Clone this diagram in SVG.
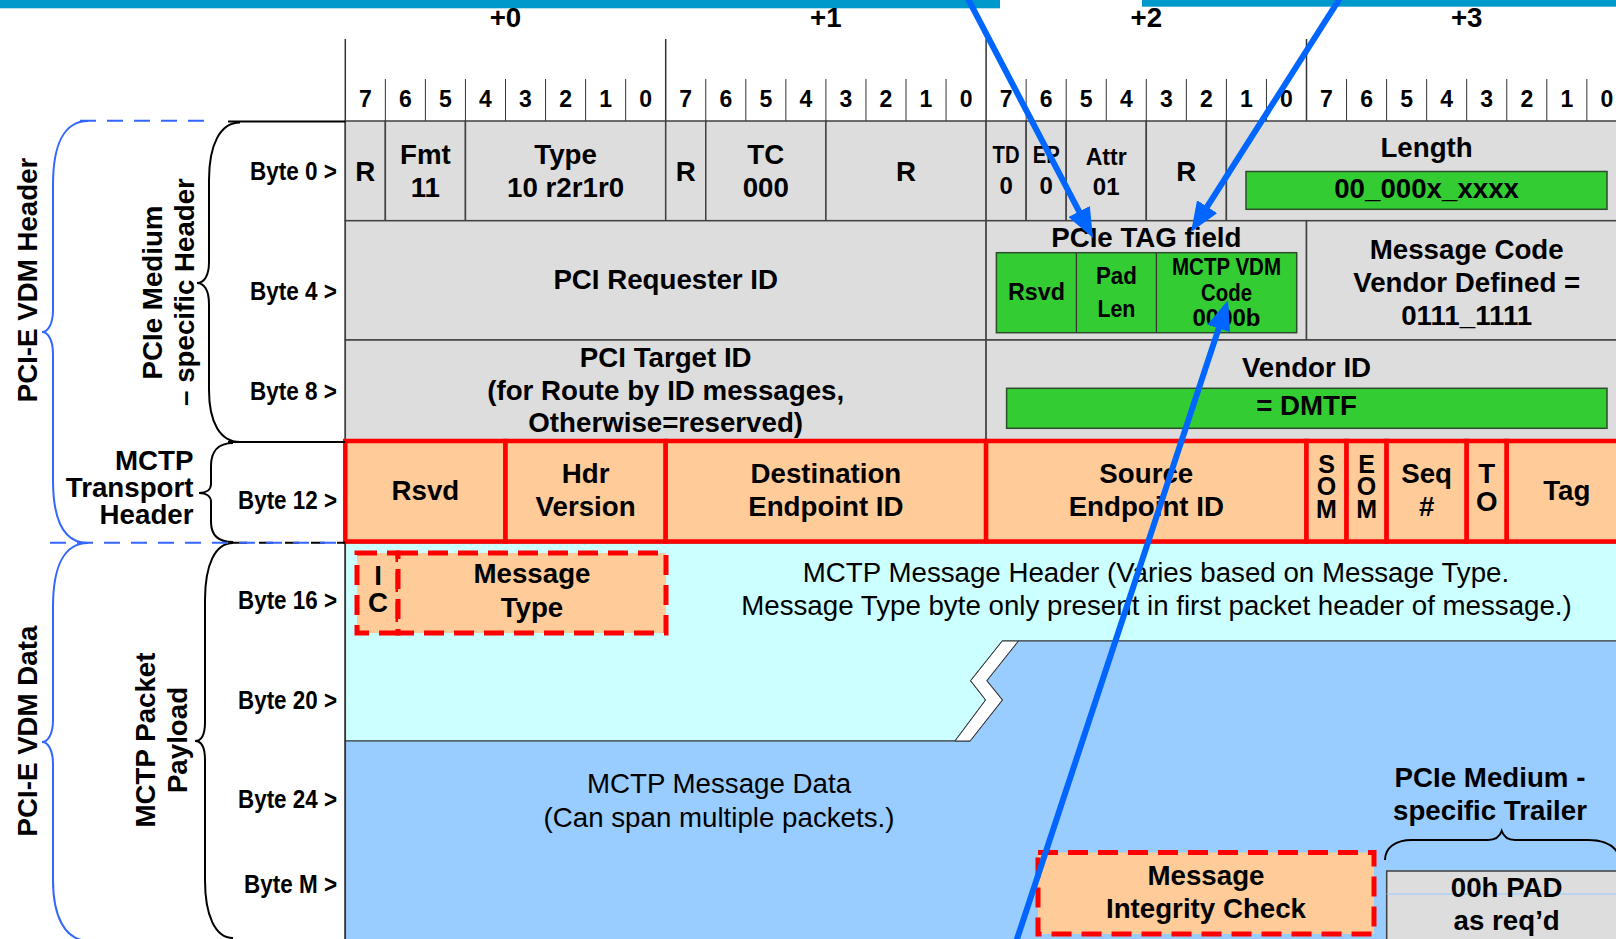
<svg xmlns="http://www.w3.org/2000/svg" width="1616" height="939" viewBox="0 0 1616 939">
<defs>
<style>
text{font-family:"Liberation Sans",Arial,sans-serif;fill:#000}
.b{font-size:27.7px;font-weight:bold;text-anchor:middle}
.r{font-size:27.7px;text-anchor:middle}
.bit{font-size:23px;font-weight:bold;text-anchor:middle}
.byte{font-size:25.5px;font-weight:bold;text-anchor:end}
.sm{font-size:24px;font-weight:bold;text-anchor:middle}
.stk{font-size:25px;font-weight:bold;text-anchor:middle}
.lt{font-size:27.7px;font-weight:bold;text-anchor:end}
.gray{fill:#DDDDDD;stroke:#404040;stroke-width:1.5}
.green{fill:#33CC33;stroke:#2b4d2b;stroke-width:1.5}
.mctp{fill:#FFCC99;stroke:#FF0000;stroke-width:4.5}
.dash{fill:#FFCC99;stroke:#FF0000;stroke-width:5;stroke-dasharray:20 10}
.brace{fill:none;stroke:#000;stroke-width:2}
.bbrace{fill:none;stroke:#3366FF;stroke-width:2}
.arrow{stroke:#0066FF;stroke-width:6;fill:none;marker-end:url(#ah)}
</style>
<marker id="ah" markerUnits="userSpaceOnUse" markerWidth="30" markerHeight="24" refX="12" refY="12" orient="auto"><path d="M0,0 L30,12 L0,24 Z" fill="#0066FF"/></marker>
</defs>
<rect width="1616" height="939" fill="#FFFFFF"/>
<!-- top bars -->
<rect x="0" y="0" width="1000" height="8.3" fill="#0099CC"/>
<rect x="1142" y="0" width="474" height="6.7" fill="#0099CC"/>
<!-- byte offsets -->
<g id="offsets">
<text class="b" x="505.5" y="27">+0</text>
<text class="b" x="825.9" y="27">+1</text>
<text class="b" x="1146.3" y="27">+2</text>
<text class="b" x="1466.7" y="27">+3</text>
</g>
<!-- grid lines -->
<g id="grid" stroke="#333" fill="none">
<path d="M345.3,39 V939 M665.7,39 V121 M986.1,39 V121 M1306.5,39 V121" stroke-width="1.5"/>
<path d="M385.35,79V121M425.4,79V121M465.45,79V121M505.5,79V121M545.55,79V121M585.6,79V121M625.65,79V121M705.75,79V121M745.8,79V121M785.85,79V121M825.9,79V121M865.95,79V121M906,79V121M946.05,79V121M1026.15,79V121M1066.2,79V121M1106.25,79V121M1146.3,79V121M1186.35,79V121M1226.4,79V121M1266.45,79V121M1346.55,79V121M1386.6,79V121M1426.65,79V121M1466.7,79V121M1506.75,79V121M1546.8,79V121M1586.85,79V121" stroke-width="1"/>
</g>
<g id="bits">
<text class="bit" x="365.3" y="107">7</text><text class="bit" x="405.4" y="107">6</text><text class="bit" x="445.4" y="107">5</text><text class="bit" x="485.5" y="107">4</text><text class="bit" x="525.5" y="107">3</text><text class="bit" x="565.6" y="107">2</text><text class="bit" x="605.6" y="107">1</text><text class="bit" x="645.7" y="107">0</text>
<text class="bit" x="685.7" y="107">7</text><text class="bit" x="725.8" y="107">6</text><text class="bit" x="765.8" y="107">5</text><text class="bit" x="805.9" y="107">4</text><text class="bit" x="845.9" y="107">3</text><text class="bit" x="886" y="107">2</text><text class="bit" x="926" y="107">1</text><text class="bit" x="966.1" y="107">0</text>
<text class="bit" x="1006.1" y="107">7</text><text class="bit" x="1046.2" y="107">6</text><text class="bit" x="1086.2" y="107">5</text><text class="bit" x="1126.3" y="107">4</text><text class="bit" x="1166.3" y="107">3</text><text class="bit" x="1206.4" y="107">2</text><text class="bit" x="1246.4" y="107">1</text><text class="bit" x="1286.5" y="107">0</text>
<text class="bit" x="1326.5" y="107">7</text><text class="bit" x="1366.6" y="107">6</text><text class="bit" x="1406.6" y="107">5</text><text class="bit" x="1446.7" y="107">4</text><text class="bit" x="1486.7" y="107">3</text><text class="bit" x="1526.8" y="107">2</text><text class="bit" x="1566.8" y="107">1</text><text class="bit" x="1606.9" y="107">0</text>
</g>
<!-- Byte 0 row -->
<g id="row0">
<rect class="gray" x="345.3" y="121" width="40.05" height="99.7"/>
<rect class="gray" x="385.35" y="121" width="80.1" height="99.7"/>
<rect class="gray" x="465.45" y="121" width="200.25" height="99.7"/>
<rect class="gray" x="665.7" y="121" width="40.05" height="99.7"/>
<rect class="gray" x="705.75" y="121" width="120.15" height="99.7"/>
<rect class="gray" x="825.9" y="121" width="160.2" height="99.7"/>
<rect class="gray" x="986.1" y="121" width="40.05" height="99.7"/>
<rect class="gray" x="1026.15" y="121" width="40.05" height="99.7"/>
<rect class="gray" x="1066.2" y="121" width="80.1" height="99.7"/>
<rect class="gray" x="1146.3" y="121" width="80.1" height="99.7"/>
<rect class="gray" x="1226.4" y="121" width="410" height="99.7"/>
</g>
<g id="f-r0"><text class="b" x="365.3" y="181">R</text></g>
<g id="f-fmt"><text class="b" x="425.4" y="164">Fmt</text><text class="b" x="425.4" y="197">11</text></g>
<g id="f-type"><text class="b" x="565.6" y="164">Type</text><text class="b" x="565.6" y="197">10 r2r1r0</text></g>
<g id="f-r1"><text class="b" x="685.7" y="181">R</text></g>
<g id="f-tc"><text class="b" x="765.8" y="164">TC</text><text class="b" x="765.8" y="197">000</text></g>
<g id="f-r2"><text class="b" x="906" y="181">R</text></g>
<g id="f-td"><text class="sm" x="1006.1" y="163" font-size="22" textLength="27" lengthAdjust="spacingAndGlyphs">TD</text><text class="sm" x="1006.1" y="194">0</text></g>
<g id="f-ep"><text class="sm" x="1046.2" y="163" font-size="22" textLength="27" lengthAdjust="spacingAndGlyphs">EP</text><text class="sm" x="1046.2" y="194">0</text></g>
<g id="f-attr"><text class="sm" x="1106.2" y="165" font-size="25" textLength="41" lengthAdjust="spacingAndGlyphs">Attr</text><text class="sm" x="1106.2" y="195" font-size="25">01</text></g>
<g id="f-r3"><text class="b" x="1186.35" y="181">R</text></g>
<g id="f-length"><text class="b" x="1426.6" y="157">Length</text>
<rect class="green" x="1246" y="171.5" width="361" height="37.8"/>
<text class="b" x="1426.6" y="198">00_000x_xxxx</text></g>
<!-- Byte 4 row -->
<g id="f-req"><rect class="gray" x="345.3" y="220.7" width="640.8" height="119.3"/><text class="b" x="665.7" y="289">PCI Requester ID</text></g>
<g id="f-tag"><rect class="gray" x="986.1" y="220.7" width="320.4" height="119.3"/>
<text class="b" x="1146.3" y="247">PCIe TAG field</text>
<rect class="green" x="996.4" y="252.7" width="300.3" height="80"/>
<line x1="1076.4" y1="252.7" x2="1076.4" y2="332.7" stroke="#333" stroke-width="1.2"/>
<line x1="1156.4" y1="252.7" x2="1156.4" y2="332.7" stroke="#333" stroke-width="1.2"/>
<text class="sm" x="1036.4" y="300" font-size="25.5" textLength="57" lengthAdjust="spacingAndGlyphs">Rsvd</text>
<text class="sm" x="1116.4" y="283.5" font-size="25.5" textLength="41" lengthAdjust="spacingAndGlyphs">Pad</text>
<text class="sm" x="1116.4" y="316.7" font-size="25.5" textLength="38" lengthAdjust="spacingAndGlyphs">Len</text>
<text class="sm" x="1226.5" y="275" font-size="23" textLength="109" lengthAdjust="spacingAndGlyphs">MCTP VDM</text>
<text class="sm" x="1226.5" y="301" font-size="23" textLength="51" lengthAdjust="spacingAndGlyphs">Code</text>
<text class="sm" x="1226.5" y="326" font-size="23">0000b</text></g>
<g id="f-msgcode"><rect class="gray" x="1306.5" y="220.7" width="330" height="119.3"/>
<text class="b" x="1466.7" y="259">Message Code</text>
<text class="b" x="1466.7" y="291.5">Vendor Defined =</text>
<text class="b" x="1466.7" y="324.5">0111_1111</text></g>
<!-- Byte 8 row -->
<g id="f-target"><rect class="gray" x="345.3" y="340" width="640.8" height="101"/>
<text class="b" x="665.7" y="367">PCI Target ID</text>
<text class="b" x="665.7" y="399.5">(for Route by ID messages,</text>
<text class="b" x="665.7" y="432">Otherwise=reserved)</text></g>
<g id="f-vendor"><rect class="gray" x="986.1" y="340" width="650" height="101"/>
<text class="b" x="1306.5" y="377">Vendor ID</text>
<rect class="green" x="1006.6" y="388.3" width="600.4" height="40"/>
<text class="b" x="1306.5" y="415">= DMTF</text></g>
<!-- payload area -->
<g id="payload">
<path d="M345.3,543 H1640 V641 H1002.3 L970.7,680.7 L985.7,700 L955,741 H345.3 Z" fill="#CCFFFF" stroke="#333" stroke-width="1.2"/>
<path d="M1018.3,641 H1640 V950 H345.3 V741 H970 L1002.3,700 L986.7,680.7 Z" fill="#99CCFF" stroke="#333" stroke-width="1.2"/>
<path d="M1002.3,641 L1018.3,641 L986.7,680.7 L1002.3,700 L970,741 L955,741 L985.7,700 L970.7,680.7 Z" fill="#FFFFFF" stroke="#333" stroke-width="1"/>
<line x1="345.3" y1="543" x2="345.3" y2="939" stroke="#333" stroke-width="1.5"/>
<line x1="1038" y1="894" x2="1616" y2="894" stroke="#99CCFF" stroke-width="1.2"/>
</g>
<g id="msghdr-text">
<text class="r" x="1156" y="582">MCTP Message Header (Varies based on Message Type.</text>
<text class="r" x="1156.5" y="615">Message Type byte only present in first packet header of message.)</text>
</g>
<g id="msgdata-text">
<text class="r" x="719" y="793">MCTP Message Data</text>
<text class="r" x="719" y="827">(Can span multiple packets.)</text>
</g>
<!-- Byte 12 row (MCTP transport header) -->
<g id="f-rsvd"><rect class="mctp" x="345.3" y="441" width="160.2" height="100.5"/><text class="b" x="425.4" y="499.5">Rsvd</text></g>
<g id="f-hdrver"><rect class="mctp" x="505.5" y="441" width="160.2" height="100.5"/><text class="b" x="585.6" y="483">Hdr</text><text class="b" x="585.6" y="516">Version</text></g>
<g id="f-dest"><rect class="mctp" x="665.7" y="441" width="320.4" height="100.5"/><text class="b" x="825.9" y="483">Destination</text><text class="b" x="825.9" y="516">Endpoint ID</text></g>
<g id="f-src"><rect class="mctp" x="986.1" y="441" width="320.4" height="100.5"/><text class="b" x="1146.3" y="483">Source</text><text class="b" x="1146.3" y="516">Endpoint ID</text></g>
<g id="f-som"><rect class="mctp" x="1306.5" y="441" width="40.05" height="100.5"/><text class="stk" x="1326.5" y="473">S</text><text class="stk" x="1326.5" y="495">O</text><text class="stk" x="1326.5" y="517.5">M</text></g>
<g id="f-eom"><rect class="mctp" x="1346.55" y="441" width="40.05" height="100.5"/><text class="stk" x="1366.6" y="473">E</text><text class="stk" x="1366.6" y="495">O</text><text class="stk" x="1366.6" y="517.5">M</text></g>
<g id="f-seq"><rect class="mctp" x="1386.6" y="441" width="80.1" height="100.5"/><text class="b" x="1426.65" y="483">Seq</text><text class="b" x="1426.65" y="516">#</text></g>
<g id="f-to"><rect class="mctp" x="1466.7" y="441" width="40.05" height="100.5"/><text class="b" x="1486.7" y="483">T</text><text class="b" x="1486.7" y="510.5">O</text></g>
<g id="f-tag2"><rect class="mctp" x="1506.75" y="441" width="130" height="100.5"/><text class="b" x="1566.8" y="499.5">Tag</text></g>
<!-- Byte 16 dashed fields -->
<g id="f-ic"><rect class="dash" x="357" y="553" width="41" height="80"/><text class="b" x="378" y="585">I</text><text class="b" x="378" y="612">C</text></g>
<g id="f-msgtype"><rect class="dash" x="398" y="553" width="268" height="80"/><text class="b" x="532" y="583">Message</text><text class="b" x="532" y="616.5">Type</text></g>
<!-- trailer -->
<g id="f-mic"><rect class="dash" x="1038" y="852.5" width="336" height="81.5"/><text class="b" x="1206" y="885">Message</text><text class="b" x="1206" y="918">Integrity Check</text></g>
<g id="f-pad"><rect class="gray" x="1386.7" y="871" width="250" height="80"/>
<line x1="1386.7" y1="894" x2="1616" y2="894" stroke="#99CCFF" stroke-width="1.2"/>
<text class="b" x="1506.7" y="897">00h PAD</text><text class="b" x="1506.7" y="930">as req’d</text></g>
<g id="trailer-label">
<text class="b" x="1490" y="787">PCIe Medium -</text>
<text class="b" x="1490" y="820">specific Trailer</text>
<path class="brace" d="M1385,860 C1385,848 1395,840 1412,840 L1488,840 C1496,840 1500,836 1501.7,831 C1503.4,836 1507,840 1515,840 L1588,840 C1605,840 1616,846 1620,858"/>
</g>
<!-- left labels and braces -->
<g id="byte-labels">
<text class="byte" x="337" y="179.5" textLength="87" lengthAdjust="spacingAndGlyphs">Byte 0 &gt;</text>
<text class="byte" x="337" y="300" textLength="87" lengthAdjust="spacingAndGlyphs">Byte 4 &gt;</text>
<text class="byte" x="337" y="400" textLength="87" lengthAdjust="spacingAndGlyphs">Byte 8 &gt;</text>
<text class="byte" x="337" y="508.5" textLength="99" lengthAdjust="spacingAndGlyphs">Byte 12 &gt;</text>
<text class="byte" x="337" y="608.5" textLength="99" lengthAdjust="spacingAndGlyphs">Byte 16 &gt;</text>
<text class="byte" x="337" y="708.5" textLength="99" lengthAdjust="spacingAndGlyphs">Byte 20 &gt;</text>
<text class="byte" x="337" y="807.5" textLength="99" lengthAdjust="spacingAndGlyphs">Byte 24 &gt;</text>
<text class="byte" x="337" y="893" textLength="93" lengthAdjust="spacingAndGlyphs">Byte M &gt;</text>
</g>
<g id="brace-medium-header">
<line x1="228" y1="121.5" x2="345.3" y2="121.5" stroke="#000" stroke-width="2"/>
<line x1="228" y1="442" x2="345.3" y2="442" stroke="#000" stroke-width="2"/>
<path class="brace" d="M240,122.5 C220,122.5 209,145 209,180 L209,262 C209,276 204,283 197,283 C204,283 209,290 209,304 L209,390 C209,422 220,442 240,442"/>
<text class="b" transform="translate(162,292.5) rotate(-90)">PCIe Medium</text>
<text class="b" transform="translate(194,292) rotate(-90)">– specific Header</text>
</g>
<g id="brace-transport">
<path class="brace" d="M233,443 C218,443 211,452 211,466 L211,484 C211,490 206,493 199,493 C206,493 211,496 211,502 L211,522 C211,535 218,542 233,542"/>
<text class="lt" x="193.5" y="469.5">MCTP</text>
<text class="lt" x="193.5" y="497">Transport</text>
<text class="lt" x="193.5" y="524">Header</text>
</g>
<g id="brace-payload">
<line x1="233" y1="542.7" x2="345.3" y2="542.7" stroke="#000" stroke-width="2" stroke-dasharray="14 12"/>
<path class="brace" d="M233,543 C215,543 205,565 205,600 L205,722 C205,735 201,741 195,741 C201,741 205,747 205,760 L205,880 C205,915 215,938 233,938"/>
<text class="b" transform="translate(155,740) rotate(-90)">MCTP Packet</text>
<text class="b" transform="translate(187,740) rotate(-90)">Payload</text>
</g>
<g id="brace-vdm-header">
<line x1="80" y1="120.7" x2="207" y2="120.7" stroke="#3366FF" stroke-width="2" stroke-dasharray="16 11"/>
<path class="bbrace" d="M88,121 C64,121 53,145 53,185 L53,310 C53,324 48,332 42,332 C48,332 53,340 53,354 L53,480 C53,520 64,543 88,543"/>
<text class="b" transform="translate(37,280) rotate(-90)">PCI-E VDM Header</text>
</g>
<g id="brace-vdm-data">
<line x1="50" y1="542.7" x2="345" y2="542.7" stroke="#3366FF" stroke-width="2" stroke-dasharray="16 11"/>
<path class="bbrace" d="M88,543 C64,543 53,567 53,607 L53,720 C53,734 48,742 42,742 C48,742 53,750 53,764 L53,880 C53,915 64,940 88,941"/>
<text class="b" transform="translate(37,731) rotate(-90)">PCI-E VDM Data</text>
</g>
<!-- connectors -->
<g id="connectors">
<line class="arrow" x1="966" y1="-5" x2="1084.7" y2="222.1"/>
<line class="arrow" x1="1342" y1="-5" x2="1200.7" y2="216.8"/>
<line class="arrow" x1="1015" y1="945" x2="1222.4" y2="317.1"/>
</g>
</svg>
